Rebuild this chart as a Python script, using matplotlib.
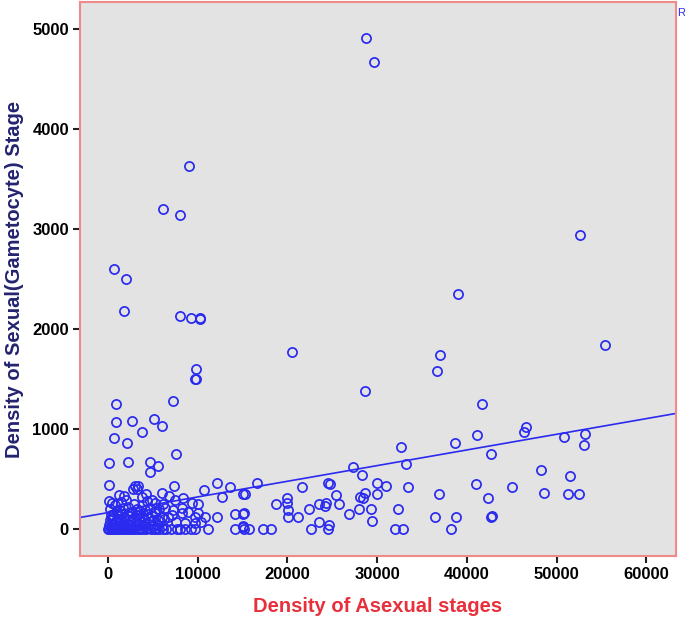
import matplotlib
matplotlib.use("Agg")
import matplotlib.pyplot as plt
from matplotlib import font_manager

# ---------------- data ----------------
# scattered / high points
spread_x = [28760, 29700, 9060, 6090, 8030, 52620,
            720, 1960, 1750, 8030, 9250, 10260, 10300,
            20470, 37010, 36720, 39020, 55380, 9790, 9790, 9750, 28620,
            860, 7280, 890, 2640, 5090, 6020, 3830, 700, 2120, 7580,
            110, 2270, 4650, 5610, 4650, 150, 3380, 3200, 7360,
            12150, 13600, 10670, 12740, 15080,
            41730, 41140, 38650, 46600, 46340, 50870, 53210, 53070,
            32620, 33260, 42660, 27350, 28280, 48240, 51470]
spread_y = [4913, 4670, 3633, 3197, 3137, 2937,
            2597, 2500, 2177, 2127, 2113, 2107, 2100,
            1770, 1737, 1577, 2350, 1840, 1597, 1497, 1505, 1377,
            1250, 1283, 1067, 1077, 1097, 1027, 967, 910, 857, 750,
            660, 673, 667, 633, 573, 440, 433, 400, 427,
            460, 420, 387, 320, 347,
            1250, 937, 863, 1020, 973, 917, 953, 840,
            820, 653, 747, 623, 537, 593, 530]

# mid-range points (x > 10000, low y)
mid_x = [21660, 24560, 24700, 29990, 30960, 33480, 41030, 45070, 36900, 48640,
         51280, 52510, 42400, 25450, 28650, 28460, 28090, 29950, 16580, 15270,
         19910, 19910, 18690, 23520, 24300, 24190, 25790, 20030, 22370, 27980,
         29280, 32330, 15130, 26870, 20100, 21180, 36450, 38750, 42720, 42760,
         29430, 23520, 24670, 15020, 15200, 15750, 17320, 18170, 22660, 24480,
         31990, 32890, 38200, 14160, 15080, 12120, 10810, 14160, 15080, 11110]
mid_y = [423, 460, 455, 457, 433, 423, 453, 423, 347, 363,
         353, 353, 313, 343, 363, 313, 323, 353, 460, 347,
         307, 257, 250, 250, 257, 230, 247, 190, 200, 200,
         200, 197, 157, 150, 117, 120, 117, 117, 123, 127,
         77, 73, 40, 30, 0, 0, 0, 0, 0, 0,
         0, 0, 0, 150, 150, 120, 123, 0, 23, 3]

# dense cluster near the origin
cluster_x = [0, 150, 300, 450, 600, 800, 1000, 1200, 1400, 1600, 1800, 2000, 2200, 2400,
             2600, 2800, 3000, 3300, 3600, 3900, 4200, 4500, 4800, 5100, 5400, 5700, 6100,
             6500, 7000, 7700, 8000, 8600, 9300, 9700,
             100, 350, 600, 900, 1200, 1500, 1800, 2100, 2500, 2900, 3300, 3700, 4100,
             4600, 5000, 5500, 6000, 7600, 9700, 10400,
             200, 500, 850, 1150, 1500, 1900, 2300, 2700, 3100, 3500, 4000, 4500, 5000,
             5600, 6200, 8580,
             300, 600, 1100, 1400, 1800, 2300, 2640, 3100, 3380, 3800, 4300, 4900, 5240,
             6000, 6730, 7100, 8220, 9710, 10080,
             250, 1000, 1340, 1700, 2270, 2600, 3200, 3600, 4130, 4700, 5200, 5700, 6360,
             7300, 8200, 8960,
             80, 400, 780, 1500, 2000, 2900, 3750, 4400, 4870, 5200, 6100, 7470, 8400,
             9330, 10080,
             1230, 2840, 3020, 4200, 5990, 1800, 3800, 6800]
cluster_y = [0, 5, 0, 10, 0, 0, 5, 0, 0, 10, 0, 0, 5, 0,
             0, 0, 5, 0, 0, 0, 0, 10, 0, 0, 5, 0, 0,
             0, 0, 0, 0, 0, 0, 0,
             40, 30, 55, 35, 60, 40, 30, 50, 45, 35, 55, 40, 30,
             50, 35, 45, 30, 73, 57, 73,
             90, 100, 85, 105, 95, 107, 90, 100, 85, 110, 95, 107, 90,
             90, 100, 57,
             140, 140, 130, 150, 125, 135, 157, 145, 140, 130, 150, 135, 157,
             125, 123, 140, 157, 123, 157,
             200, 180, 190, 210, 223, 175, 200, 185, 190, 215, 180, 200, 207,
             190, 210, 173,
             280, 260, 240, 270, 290, 250, 240, 280, 290, 260, 250, 290, 307,
             263, 247,
             340, 400, 433, 353, 360, 330, 320, 330]

# linear fit line
fit_intercept = 164.0
fit_slope = 0.01566

x_ticks = [0, 10000, 20000, 30000, 40000, 50000, 60000]
y_ticks = [0, 1000, 2000, 3000, 4000, 5000]
x_label = "Density of Asexual stages"
y_label = "Density of Sexual(Gametocyte) Stage"

# ---------------- fonts ----------------
names = {f.name for f in font_manager.fontManager.ttflist}
tick_family = ["Liberation Sans Narrow", "Liberation Sans", "DejaVu Sans"] \
    if "Liberation Sans Narrow" in names else ["Liberation Sans", "DejaVu Sans"]
label_family = ["Liberation Sans", "DejaVu Sans"]

# ---------------- figure ----------------
fig = plt.figure(figsize=(6.85, 6.24), dpi=100)
ax = fig.add_axes([80 / 685, 1 - 556 / 624, 596 / 685, 554 / 624])
ax.set_facecolor("#e3e3e3")

xmin, xmax = -3120, 63320
ymin, ymax = -270, 5270

blue = "#2a2af0"
for xs, ys in [(cluster_x, cluster_y), (mid_x, mid_y), (spread_x, spread_y)]:
    ax.plot(xs, ys, linestyle="none", marker="o", markersize=6.6,
            markerfacecolor="none", markeredgecolor=blue, markeredgewidth=1.25,
            clip_on=True)

ax.plot([xmin, xmax], [fit_intercept + fit_slope * xmin, fit_intercept + fit_slope * xmax],
        color=blue, linewidth=1.2)

ax.set_xlim(xmin, xmax)
ax.set_ylim(ymin, ymax)
ax.set_xticks(x_ticks)
ax.set_yticks(y_ticks)
ax.set_xticklabels([str(v) for v in x_ticks], family=tick_family, fontweight="bold",
                   fontsize=12)
ax.set_yticklabels([str(v) for v in y_ticks], family=tick_family, fontweight="bold",
                   fontsize=12)
ax.tick_params(axis="both", direction="out", length=5, width=1.5, color="#222222",
               pad=3)

for sp in ax.spines.values():
    sp.set_color("#ee8a8a")
    sp.set_linewidth(1.5)

ax.set_xlabel(x_label, family=label_family, fontweight="bold", fontsize=14.5,
              color="#e8303c", labelpad=11)
ax.set_ylabel(y_label, family=label_family, fontweight="bold", fontsize=14.5,
              color="#232370", labelpad=6)

fig.text(677 / 685, 1 - 13 / 624, "R", color=blue, fontsize=8, family=label_family,
         ha="left", va="center")

fig.savefig("out.png", dpi=100)
